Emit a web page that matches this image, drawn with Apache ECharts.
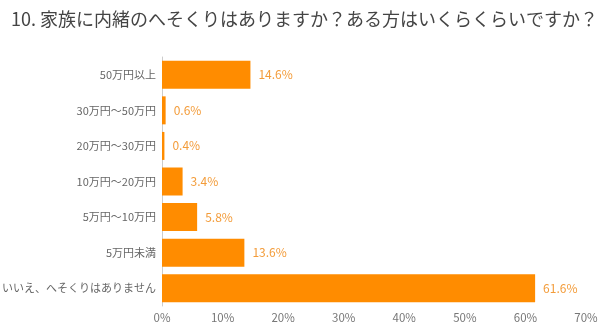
<!DOCTYPE html>
<html>
<head>
<meta charset="utf-8">
<script src="https://cdn.jsdelivr.net/npm/echarts@6/dist/echarts.min.js"></script>
<style>
html,body{margin:0;padding:0;background:#fff;}
#chart{width:600px;height:332px;}
</style>
</head>
<body>
<div id="chart"></div>
<script>
// Survey answers, listed top to bottom as shown
var categories = ['50万円以上', '30万円〜50万円', '20万円〜30万円', '10万円〜20万円', '5万円〜10万円', '5万円未満', 'いいえ、へそくりはありません'];
var percentages = [14.6, 0.6, 0.4, 3.4, 5.8, 13.6, 61.6];
var tickValues = [0, 10, 20, 30, 40, 50, 60, 70];

var font = '"Noto Sans CJK JP", "Liberation Sans", sans-serif';
var chart = echarts.init(document.getElementById('chart'));
chart.setOption({
  animation: false,
  title: {
    text: '10. 家族に内緒のへそくりはありますか？ある方はいくらくらいですか？',
    left: 6, top: 5,
    textStyle: { fontFamily: font, fontSize: 18, fontWeight: 'normal', color: '#444' }
  },
  grid: { left: 162, right: 14, top: 57, bottom: 26, containLabel: false, outerBoundsMode: 'none' },
  xAxis: {
    type: 'value',
    min: tickValues[0], max: tickValues[tickValues.length - 1], interval: 10,
    axisLine: { show: false }, axisTick: { show: false }, splitLine: { show: false },
    axisLabel: { formatter: '{value}%', color: '#777', fontFamily: font, fontSize: 11.5, margin: 6 }
  },
  yAxis: {
    type: 'category',
    data: categories.slice().reverse(),
    axisLine: { show: true, lineStyle: { color: '#ccc' } },
    axisTick: { show: false },
    axisLabel: { color: '#666', fontFamily: font, fontSize: 11, margin: 6 }
  },
  series: [{
    type: 'bar',
    data: percentages.slice().reverse(),
    barWidth: 28,
    itemStyle: { color: '#ff8c00' },
    label: {
      show: true, position: 'right', distance: 8,
      formatter: function (p) { return p.value.toFixed(1) + '%'; },
      color: '#f39c3a', fontFamily: font, fontSize: 12
    }
  }]
});
</script>
</body>
</html>
